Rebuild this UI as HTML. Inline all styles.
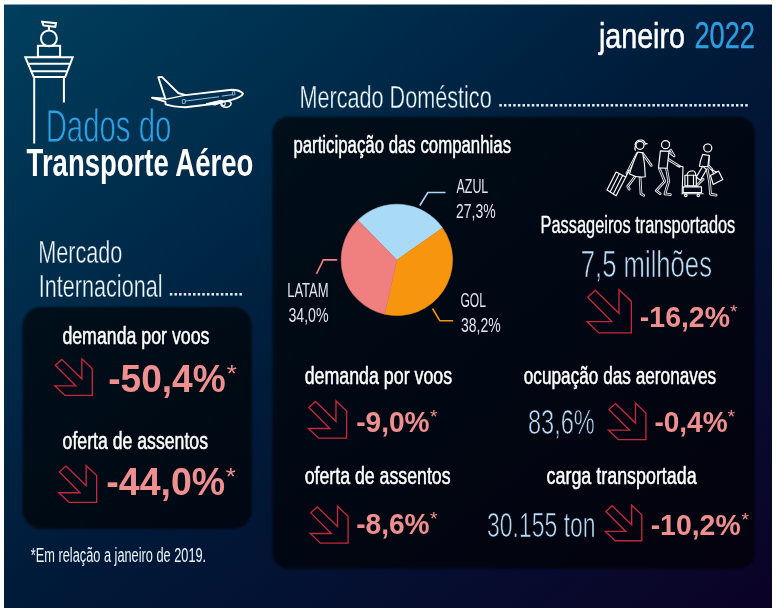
<!DOCTYPE html>
<html lang="pt-BR"><head><meta charset="utf-8"><title>Dados do Transporte Aéreo - janeiro 2022</title>
<style>html,body{margin:0;padding:0;background:#fff;font-family:"Liberation Sans",sans-serif}svg{display:block;will-change:transform}</style>
</head><body>
<svg width="776" height="615" viewBox="0 0 776 615" font-family="Liberation Sans, sans-serif">
<defs>
<linearGradient id="bg" x1="0" y1="0" x2="1" y2="1">
<stop offset="0" stop-color="#003f5e"/><stop offset=".5" stop-color="#001a39"/><stop offset="1" stop-color="#0b0226"/>
</linearGradient>
<filter id="soft" x="-5%" y="-5%" width="110%" height="110%"><feGaussianBlur stdDeviation="0.9"/></filter>
</defs>
<rect width="776" height="615" fill="#fff"/>
<rect x="4" y="4.5" width="768" height="603.5" fill="url(#bg)"/>

<rect x="272.4" y="116.8" width="482.6" height="452" rx="16" fill="#000" fill-opacity=".65" filter="url(#soft)"/>
<rect x="22.5" y="306.9" width="229.4" height="222.2" rx="19" fill="#000" fill-opacity=".65" filter="url(#soft)"/>
<g fill="none" stroke="#fff" stroke-width="2" stroke-linejoin="miter">
<path d="M42.2 21.8 56 23.2 55.3 26.8 43.4 25.4Z"/>
<path d="M48.9 25.9V30.2"/>
<circle cx="48.9" cy="38.4" r="7.9"/>
<rect x="37.9" y="45.8" width="22.2" height="11"/>
<path d="M25.3 57.3H72.7L65.2 77H33.7Z"/>
<path d="M27.7 63.7H70.3M30.5 71.2H67.5"/>
<path d="M34.2 77V143.6M63.9 77V102.4"/>
</g>
<g fill="none" stroke="#fff" stroke-width="1.9" stroke-linejoin="round" stroke-linecap="round"><path d="M158.3 77.2 L161.9 76.9 L178.2 93.0 L185.6 95.1 L231.6 89.7 Q240.0 89.7 243.1 93.7 Q241.3 97.5 231.6 99.9 L212.7 104.0 L185.6 107.2 Q172.7 106.7 165.6 104.3 L165.3 101.6 L152.0 97.8 L165.3 98.6 Z"/><path d="M165.3 99.4 L185.6 95.1" stroke-width="1.4"/><path d="M206.6 103.6 L220.8 100.3 L225.1 101.4 L215.4 104.9 Z" fill="#fff" stroke-width="1"/><path d="M220.8 103.5 Q221.5 107.5 226.9 107.2 Q231.3 106.4 231.1 102.9 Q230.3 101.0 226.2 101.3" stroke-width="1.5"/><path d="M222.8 101.8 Q220.8 104.3 223.5 105.9 Q226.2 104.5 224.8 101.8" stroke-width="1.1"/><path d="M185.6 101.0 L218.7 96.8 M222.1 96.1 L231.6 94.7" stroke="#9fd0ee" stroke-width=".9"/><path d="M182.6 99.7 L185.1 99.4 L185.3 103.2 L182.9 103.5 ZM232.7 91.8 L234.6 91.5 L234.9 94.8 L233.0 95.1 Z" stroke="#bfe0f5" stroke-width=".7"/></g>
<text x="45.65" y="141.9" font-size="47" textLength="125.75" lengthAdjust="spacingAndGlyphs" fill="#2ba0e4"  stroke="#003555" stroke-width="0.9">Dados do</text>
<text x="26.62" y="175.7" font-size="38" textLength="226.73" lengthAdjust="spacingAndGlyphs" fill="#ffffff" font-weight="bold" >Transporte Aéreo</text>
<text x="598.92" y="47.6" font-size="35" textLength="86.09" lengthAdjust="spacingAndGlyphs" fill="#ffffff"  stroke="#ffffff" stroke-width="0.55" stroke-linejoin="round">janeiro</text>
<text x="694.44" y="48.2" font-size="36" textLength="60.51" lengthAdjust="spacingAndGlyphs" fill="#2c9fe0"  stroke="#2c9fe0" stroke-width="0.3" stroke-linejoin="round">2022</text>
<text x="299.47" y="108.3" font-size="31.5" textLength="192.24" lengthAdjust="spacingAndGlyphs" fill="#eef7fd"  stroke="#002c4b" stroke-width="0.4">Mercado Doméstico</text>
<g fill="#e6f2fb"><rect x="499.30" y="104.05" width="2.5" height="2.5"/><rect x="503.94" y="104.05" width="2.5" height="2.5"/><rect x="508.58" y="104.05" width="2.5" height="2.5"/><rect x="513.22" y="104.05" width="2.5" height="2.5"/><rect x="517.86" y="104.05" width="2.5" height="2.5"/><rect x="522.50" y="104.05" width="2.5" height="2.5"/><rect x="527.14" y="104.05" width="2.5" height="2.5"/><rect x="531.78" y="104.05" width="2.5" height="2.5"/><rect x="536.42" y="104.05" width="2.5" height="2.5"/><rect x="541.06" y="104.05" width="2.5" height="2.5"/><rect x="545.70" y="104.05" width="2.5" height="2.5"/><rect x="550.34" y="104.05" width="2.5" height="2.5"/><rect x="554.98" y="104.05" width="2.5" height="2.5"/><rect x="559.62" y="104.05" width="2.5" height="2.5"/><rect x="564.26" y="104.05" width="2.5" height="2.5"/><rect x="568.90" y="104.05" width="2.5" height="2.5"/><rect x="573.54" y="104.05" width="2.5" height="2.5"/><rect x="578.18" y="104.05" width="2.5" height="2.5"/><rect x="582.82" y="104.05" width="2.5" height="2.5"/><rect x="587.46" y="104.05" width="2.5" height="2.5"/><rect x="592.10" y="104.05" width="2.5" height="2.5"/><rect x="596.74" y="104.05" width="2.5" height="2.5"/><rect x="601.38" y="104.05" width="2.5" height="2.5"/><rect x="606.02" y="104.05" width="2.5" height="2.5"/><rect x="610.66" y="104.05" width="2.5" height="2.5"/><rect x="615.30" y="104.05" width="2.5" height="2.5"/><rect x="619.94" y="104.05" width="2.5" height="2.5"/><rect x="624.58" y="104.05" width="2.5" height="2.5"/><rect x="629.22" y="104.05" width="2.5" height="2.5"/><rect x="633.86" y="104.05" width="2.5" height="2.5"/><rect x="638.50" y="104.05" width="2.5" height="2.5"/><rect x="643.14" y="104.05" width="2.5" height="2.5"/><rect x="647.78" y="104.05" width="2.5" height="2.5"/><rect x="652.42" y="104.05" width="2.5" height="2.5"/><rect x="657.06" y="104.05" width="2.5" height="2.5"/><rect x="661.70" y="104.05" width="2.5" height="2.5"/><rect x="666.34" y="104.05" width="2.5" height="2.5"/><rect x="670.98" y="104.05" width="2.5" height="2.5"/><rect x="675.62" y="104.05" width="2.5" height="2.5"/><rect x="680.26" y="104.05" width="2.5" height="2.5"/><rect x="684.90" y="104.05" width="2.5" height="2.5"/><rect x="689.54" y="104.05" width="2.5" height="2.5"/><rect x="694.18" y="104.05" width="2.5" height="2.5"/><rect x="698.82" y="104.05" width="2.5" height="2.5"/><rect x="703.46" y="104.05" width="2.5" height="2.5"/><rect x="708.10" y="104.05" width="2.5" height="2.5"/><rect x="712.74" y="104.05" width="2.5" height="2.5"/><rect x="717.38" y="104.05" width="2.5" height="2.5"/><rect x="722.02" y="104.05" width="2.5" height="2.5"/><rect x="726.66" y="104.05" width="2.5" height="2.5"/><rect x="731.30" y="104.05" width="2.5" height="2.5"/><rect x="735.94" y="104.05" width="2.5" height="2.5"/><rect x="740.58" y="104.05" width="2.5" height="2.5"/><rect x="745.22" y="104.05" width="2.5" height="2.5"/></g>
<text x="38.17" y="262.9" font-size="32" textLength="84.11" lengthAdjust="spacingAndGlyphs" fill="#eef7fd"  stroke="#00304f" stroke-width="0.4">Mercado</text>
<text x="38.86" y="296.6" font-size="32" textLength="123.57" lengthAdjust="spacingAndGlyphs" fill="#eef7fd"  stroke="#002d4c" stroke-width="0.4">Internacional</text>
<g fill="#e6f2fb"><rect x="169.80" y="293.05" width="2.5" height="2.5"/><rect x="174.44" y="293.05" width="2.5" height="2.5"/><rect x="179.08" y="293.05" width="2.5" height="2.5"/><rect x="183.72" y="293.05" width="2.5" height="2.5"/><rect x="188.36" y="293.05" width="2.5" height="2.5"/><rect x="193.00" y="293.05" width="2.5" height="2.5"/><rect x="197.64" y="293.05" width="2.5" height="2.5"/><rect x="202.28" y="293.05" width="2.5" height="2.5"/><rect x="206.92" y="293.05" width="2.5" height="2.5"/><rect x="211.56" y="293.05" width="2.5" height="2.5"/><rect x="216.20" y="293.05" width="2.5" height="2.5"/><rect x="220.84" y="293.05" width="2.5" height="2.5"/><rect x="225.48" y="293.05" width="2.5" height="2.5"/><rect x="230.12" y="293.05" width="2.5" height="2.5"/><rect x="234.76" y="293.05" width="2.5" height="2.5"/><rect x="239.40" y="293.05" width="2.5" height="2.5"/></g>
<text x="293.41" y="152.5" font-size="23" textLength="217.64" lengthAdjust="spacingAndGlyphs" fill="#ffffff"  stroke="#ffffff" stroke-width="0.5" stroke-linejoin="round">participação das companhias</text>
<path d="M396.9 259.9L357.86 220.17A55.7 55.7 0 0 1 442.53 227.95Z" fill="#aadbf6" stroke="#aadbf6" stroke-width=".5"/><path d="M396.9 259.9L442.53 227.95A55.7 55.7 0 0 1 384.65 314.24Z" fill="#f7960e" stroke="#f7960e" stroke-width=".5"/><path d="M396.9 259.9L384.65 314.24A55.7 55.7 0 0 1 357.86 220.17Z" fill="#f08080" stroke="#f08080" stroke-width=".5"/>
<g fill="none" stroke-width="1.6"><path d="M419.8 205.5 427.8 192.5H445.5" stroke="#aadbf6"/><path d="M337.2 259.9H323.3L316.5 273.8" stroke="#f08080"/><path d="M432.5 308.5 439.9 320.8H453.2" stroke="#f7960e"/></g>
<text x="456.50" y="192.9" font-size="21" textLength="31.79" lengthAdjust="spacingAndGlyphs" fill="#dde3ef" >AZUL</text>
<text x="456.10" y="217.7" font-size="20" textLength="39.59" lengthAdjust="spacingAndGlyphs" fill="#dde3ef" >27,3%</text>
<text x="287.16" y="296.9" font-size="21" textLength="41.49" lengthAdjust="spacingAndGlyphs" fill="#dde3ef" >LATAM</text>
<text x="288.43" y="321.7" font-size="20" textLength="40.17" lengthAdjust="spacingAndGlyphs" fill="#dde3ef" >34,0%</text>
<text x="460.39" y="307.1" font-size="21" textLength="25.59" lengthAdjust="spacingAndGlyphs" fill="#dde3ef" >GOL</text>
<text x="461.04" y="331.7" font-size="20" textLength="39.66" lengthAdjust="spacingAndGlyphs" fill="#dde3ef" >38,2%</text>
<g fill="none" stroke="#fff" stroke-linejoin="round" stroke-linecap="round">
<g stroke-width="2.7" stroke-opacity=".92"><path d="M642.7 153.5 L651.3 165.4"/><path d="M637.2 153.5 L626.9 173.3"/><path d="M640.1 177.6 L641.0 193.9 L643.8 195.4"/><path d="M634.6 177.2 L627.7 186.4 L629.2 189.2"/><path d="M669.0 151.7 L674.1 155.9 L670.7 150.1"/><path d="M665.9 157.8 L679.5 166.4"/><path d="M659.4 168.6 L664.7 181.3 L656.3 190.7 L660.2 193.7"/><path d="M666.6 168.6 L668.7 181.3 L664.9 193.9 L670.4 194.6"/><path d="M708.5 156.0 L708.1 165.4 L711.8 169.4"/><path d="M703.2 179.1 L695.7 186.6 L694.2 189.0 L696.3 190.9"/><path d="M707.3 169.7 L709.6 182.3 L710.5 194.2 L716.1 195.2"/></g>
<g stroke="#050b19" stroke-width=".9"><path d="M642.7 153.5 L651.3 165.4"/><path d="M637.2 153.5 L626.9 173.3"/><path d="M640.1 177.6 L641.0 193.9 L643.8 195.4"/><path d="M634.6 177.2 L627.7 186.4 L629.2 189.2"/><path d="M669.0 151.7 L674.1 155.9 L670.7 150.1"/><path d="M665.9 157.8 L679.5 166.4"/><path d="M659.4 168.6 L664.7 181.3 L656.3 190.7 L660.2 193.7"/><path d="M666.6 168.6 L668.7 181.3 L664.9 193.9 L670.4 194.6"/><path d="M708.5 156.0 L708.1 165.4 L711.8 169.4"/><path d="M703.2 179.1 L695.7 186.6 L694.2 189.0 L696.3 190.9"/><path d="M707.3 169.7 L709.6 182.3 L710.5 194.2 L716.1 195.2"/></g>
<g stroke-width="1.15" fill="#050b19"><path d="M637.8 152.0 Q632.2 164.1 629.5 174.0 Q637.6 178.3 645.3 176.7 Q645.1 164.1 642.7 152.9 Z"/><path d="M616.1 172.1 L625.8 177.0 L616.1 195.8 L607.0 189.9 Z"/><path d="M660.4 150.9 L658.5 167.9 L667.1 168.3 L669.0 151.4 Z"/><path d="M684.9 175.2 L696.3 175.2 L696.3 185.8 L684.9 185.8 Z"/><path d="M683.2 186.8 L701.5 186.8 L701.5 192.5 L683.2 192.5 Z"/><path d="M702.7 154.4 Q700.0 160.9 699.5 166.2 L707.8 166.7 L709.2 155.5 Z"/><path d="M702.7 166.2 L696.3 177.0 L700.4 180.4 L706.4 169.7 Z"/><path d="M710.5 175.4 L718.5 171.1 L722.8 179.6 L713.2 184.5 Z"/></g>
<g stroke-width="1.1"><path d="M634.9 144.7 Q636.0 139.6 641.7 140.0 Q644.7 140.7 644.9 143.0 L647.3 143.7 L644.9 144.3"/><path d="M635.7 145.2 Q634.2 148.5 635.4 150.3"/><path d="M619.3 173.7 L610.2 191.8 M622.6 175.4 L613.4 193.8"/><path d="M625.8 177.0 L628.8 170.1"/><path d="M661.5 144.2 Q663.9 139.6 669.6 142.8"/><path d="M677.2 166.0 L683.0 166.7 L682.1 193.7 L703.2 193.7"/><path d="M686.9 175.2 Q687.4 171.1 692.2 170.7 Q696.0 171.1 695.7 175.2"/><path d="M687.7 175.2 L687.7 185.8 M693.5 175.2 L693.5 185.8"/><path d="M703.8 146.7 Q705.1 143.5 709.6 144.5"/><path d="M711.8 169.4 L713.7 174.0 M711.8 169.4 L716.7 172.2"/></g>
<g stroke-width="1.2" fill="#050b19"><circle cx="640.0" cy="145.3" r="4.0"/><circle cx="665.5" cy="144.7" r="4.0"/><circle cx="707.8" cy="148.0" r="4.0"/><circle cx="685.8" cy="195.4" r="1.2"/><circle cx="698.3" cy="195.4" r="1.2"/></g>
</g>
<text x="540.59" y="233.0" font-size="23" textLength="194.70" lengthAdjust="spacingAndGlyphs" fill="#ffffff"  stroke="#ffffff" stroke-width="0.35" stroke-linejoin="round">Passageiros transportados</text>
<text x="580.82" y="277" font-size="37" textLength="131.15" lengthAdjust="spacingAndGlyphs" fill="#b9dcf5"  stroke="#020916" stroke-width="0.7">7,5 milhões</text>
<path d="M8.5 .7 32.8 24.3V0L45.5 12.1V44.4H12.2L0 32.8H25.4L.6 7.9Z" transform="translate(587.0 289.6) scale(0.975)" fill="none" stroke="#c4283c" stroke-width="1.38" stroke-linejoin="miter"/>
<text x="639.86" y="326.5" font-size="29" textLength="90.11" lengthAdjust="spacingAndGlyphs" fill="#f08f8f" font-weight="bold" >-16,2%</text>
<text x="730.01" y="318.0" font-size="18" textLength="7.55" lengthAdjust="spacingAndGlyphs" fill="#f08f8f" >*</text>
<text x="304.69" y="383.8" font-size="23" textLength="147.41" lengthAdjust="spacingAndGlyphs" fill="#ffffff"  stroke="#ffffff" stroke-width="0.5" stroke-linejoin="round">demanda por voos</text>
<path d="M8.5 .7 32.8 24.3V0L45.5 12.1V44.4H12.2L0 32.8H25.4L.6 7.9Z" transform="translate(308.4 400.9) scale(0.84)" fill="none" stroke="#c4283c" stroke-width="1.61" stroke-linejoin="miter"/>
<text x="356.18" y="432" font-size="29" textLength="73.45" lengthAdjust="spacingAndGlyphs" fill="#f08f8f" font-weight="bold" >-9,0%</text>
<text x="429.91" y="422.8" font-size="18" textLength="7.55" lengthAdjust="spacingAndGlyphs" fill="#f08f8f" >*</text>
<text x="523.81" y="383.5" font-size="23" textLength="192.29" lengthAdjust="spacingAndGlyphs" fill="#ffffff"  stroke="#ffffff" stroke-width="0.5" stroke-linejoin="round">ocupação das aeronaves</text>
<text x="527.94" y="433.8" font-size="35" textLength="66.90" lengthAdjust="spacingAndGlyphs" fill="#b9dcf5"  stroke="#020716" stroke-width="0.7">83,6%</text>
<path d="M8.5 .7 32.8 24.3V0L45.5 12.1V44.4H12.2L0 32.8H25.4L.6 7.9Z" transform="translate(608.4 403.0) scale(0.825)" fill="none" stroke="#c4283c" stroke-width="1.64" stroke-linejoin="miter"/>
<text x="654.38" y="432" font-size="29" textLength="73.25" lengthAdjust="spacingAndGlyphs" fill="#f08f8f" font-weight="bold" >-0,4%</text>
<text x="727.61" y="422.6" font-size="18" textLength="7.55" lengthAdjust="spacingAndGlyphs" fill="#f08f8f" >*</text>
<text x="304.69" y="484.3" font-size="23" textLength="145.89" lengthAdjust="spacingAndGlyphs" fill="#ffffff"  stroke="#ffffff" stroke-width="0.5" stroke-linejoin="round">oferta de assentos</text>
<path d="M8.5 .7 32.8 24.3V0L45.5 12.1V44.4H12.2L0 32.8H25.4L.6 7.9Z" transform="translate(310.3 506.3) scale(0.83)" fill="none" stroke="#c4283c" stroke-width="1.63" stroke-linejoin="miter"/>
<text x="356.18" y="533.7" font-size="29" textLength="73.45" lengthAdjust="spacingAndGlyphs" fill="#f08f8f" font-weight="bold" >-8,6%</text>
<text x="429.91" y="525.3" font-size="18" textLength="7.55" lengthAdjust="spacingAndGlyphs" fill="#f08f8f" >*</text>
<text x="546.58" y="483.7" font-size="23" textLength="150.10" lengthAdjust="spacingAndGlyphs" fill="#ffffff"  stroke="#ffffff" stroke-width="0.5" stroke-linejoin="round">carga transportada</text>
<text x="487.08" y="537" font-size="34.5" textLength="108.45" lengthAdjust="spacingAndGlyphs" fill="#b9dcf5"  stroke="#020516" stroke-width="0.7">30.155 ton</text>
<path d="M8.5 .7 32.8 24.3V0L45.5 12.1V44.4H12.2L0 32.8H25.4L.6 7.9Z" transform="translate(605.4 505.2) scale(0.8)" fill="none" stroke="#c4283c" stroke-width="1.69" stroke-linejoin="miter"/>
<text x="650.66" y="534.7" font-size="29" textLength="90.00" lengthAdjust="spacingAndGlyphs" fill="#f08f8f" font-weight="bold" >-10,2%</text>
<text x="741.41" y="525.9" font-size="18" textLength="7.55" lengthAdjust="spacingAndGlyphs" fill="#f08f8f" >*</text>
<text x="62.39" y="343.5" font-size="23" textLength="147.00" lengthAdjust="spacingAndGlyphs" fill="#ffffff"  stroke="#ffffff" stroke-width="0.5" stroke-linejoin="round">demanda por voos</text>
<path d="M8.5 .7 32.8 24.3V0L45.5 12.1V44.4H12.2L0 32.8H25.4L.6 7.9Z" transform="translate(54.8 358.8) scale(0.825)" fill="none" stroke="#c4283c" stroke-width="1.64" stroke-linejoin="miter"/>
<text x="108.22" y="392.4" font-size="38" textLength="117.45" lengthAdjust="spacingAndGlyphs" fill="#f08f8f" font-weight="bold" >-50,4%</text>
<text x="226.71" y="381.8" font-size="24" textLength="10.06" lengthAdjust="spacingAndGlyphs" fill="#f08f8f" >*</text>
<text x="62.59" y="449.1" font-size="23" textLength="145.38" lengthAdjust="spacingAndGlyphs" fill="#ffffff"  stroke="#ffffff" stroke-width="0.5" stroke-linejoin="round">oferta de assentos</text>
<path d="M8.5 .7 32.8 24.3V0L45.5 12.1V44.4H12.2L0 32.8H25.4L.6 7.9Z" transform="translate(58.9 465.5) scale(0.83)" fill="none" stroke="#c4283c" stroke-width="1.63" stroke-linejoin="miter"/>
<text x="106.30" y="495.4" font-size="38" textLength="118.88" lengthAdjust="spacingAndGlyphs" fill="#f08f8f" font-weight="bold" >-44,0%</text>
<text x="225.71" y="484.8" font-size="24" textLength="10.06" lengthAdjust="spacingAndGlyphs" fill="#f08f8f" >*</text>
<text x="30.81" y="562" font-size="20" textLength="175.36" lengthAdjust="spacingAndGlyphs" fill="#eef7fd" >*Em relação a janeiro de 2019.</text>
</svg>
</body></html>
